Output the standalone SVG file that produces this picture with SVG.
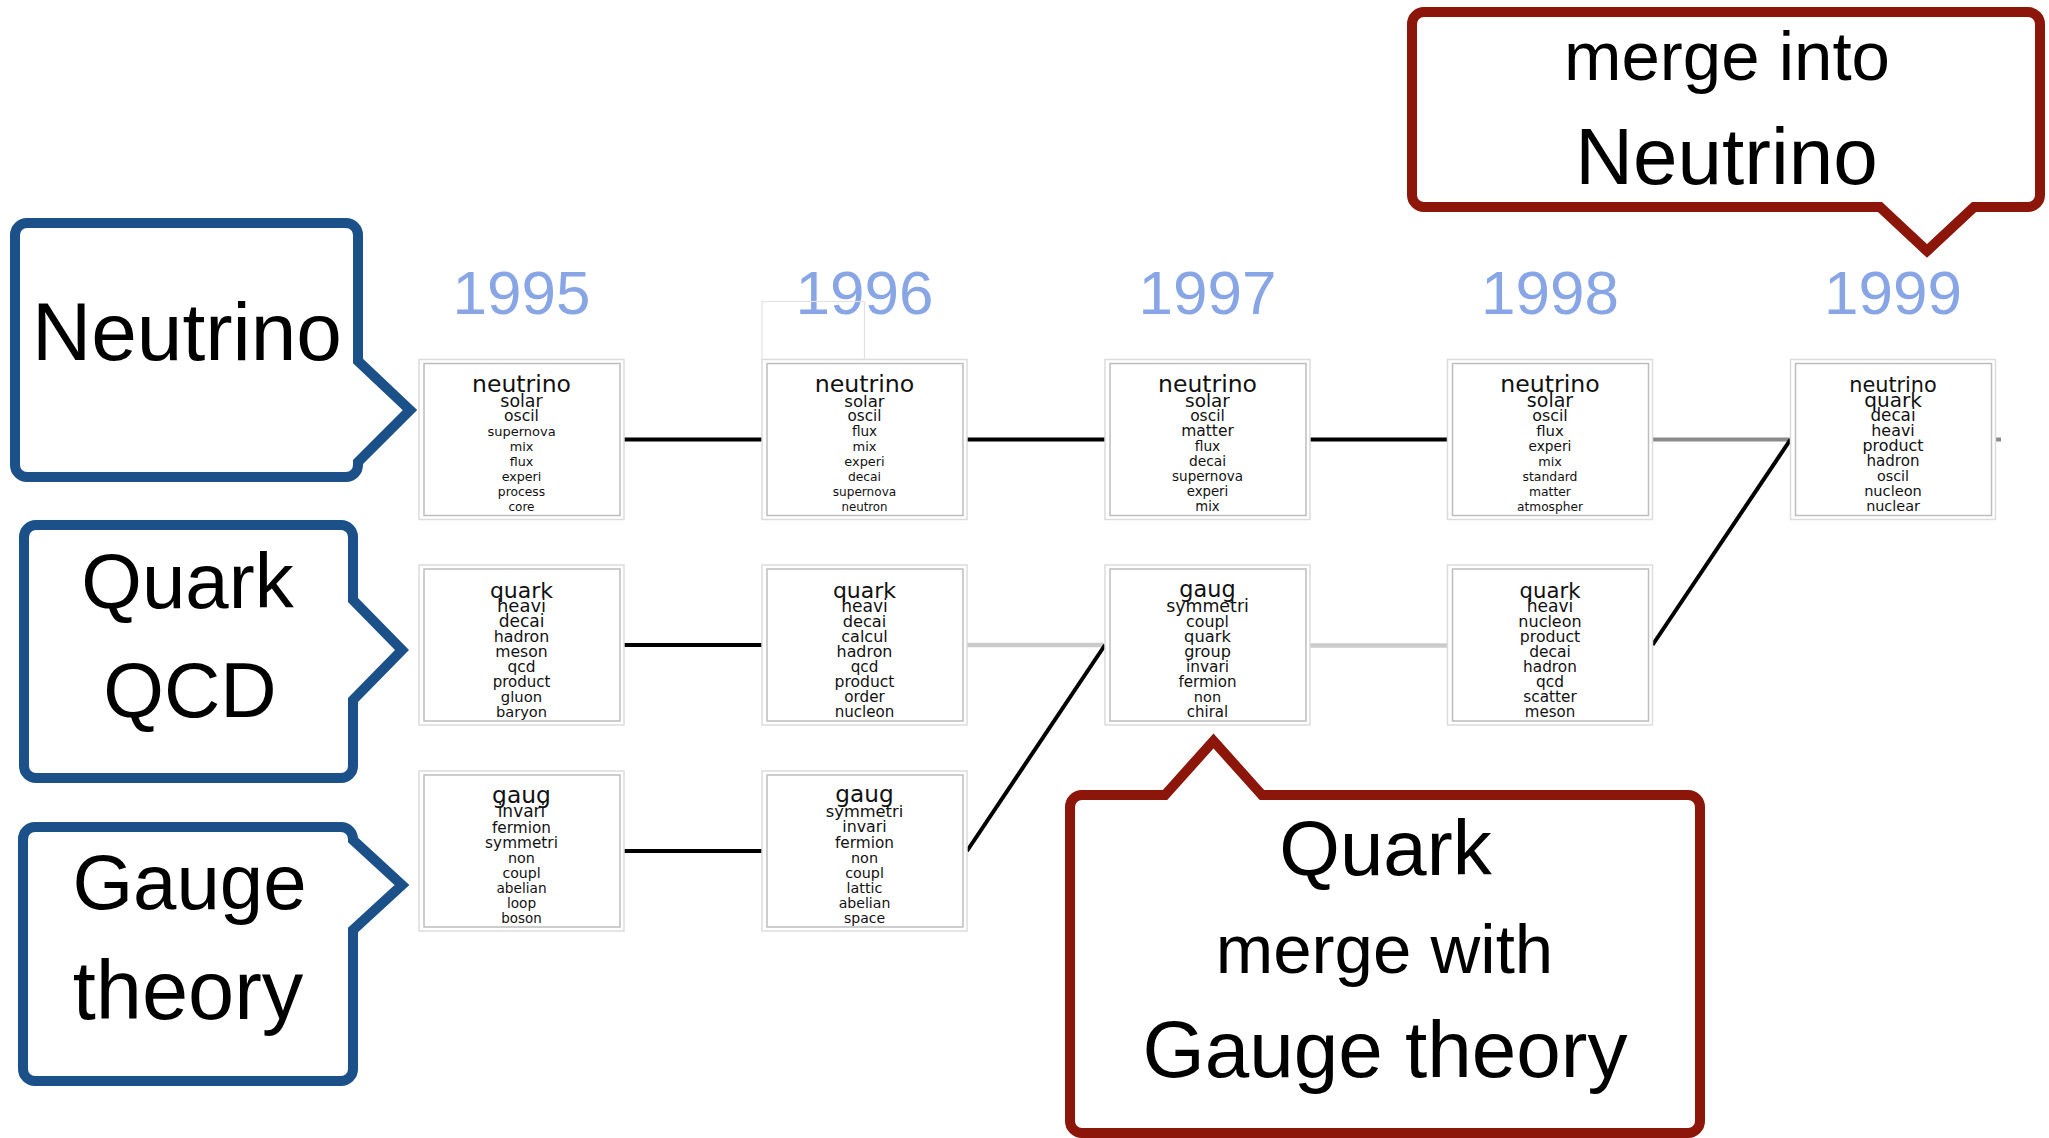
<svg xmlns="http://www.w3.org/2000/svg" width="2049" height="1138" viewBox="0 0 2049 1138">
  <style>
    .bo { fill: #ffffff; stroke: #dcdcdc; stroke-width: 1.5; }
    .bi { fill: #ffffff; stroke: #bdbdbd; stroke-width: 1.5; }
    .w { font-family: "DejaVu Sans", Verdana, sans-serif; text-anchor: middle; fill: #111111; }
    .yr { font-family: "Liberation Sans", Arial, sans-serif; font-size: 62px; fill: #88a6e6; text-anchor: middle; }
    .ct { font-family: "Liberation Sans", Arial, sans-serif; text-anchor: middle; fill: #000000; }
    .cb { fill: #ffffff; stroke: #1b5088; stroke-width: 10; stroke-linejoin: miter; }
    .cr { fill: #ffffff; stroke: #8b1609; stroke-width: 10; stroke-linejoin: miter; }
    .ln { stroke: #000000; stroke-width: 4; fill: none; }
    .lm { stroke: #8a8a8a; stroke-width: 4; fill: none; }
    .lf { stroke: #cbcbcb; stroke-width: 4.5; fill: none; }
    .ghost { fill: none; stroke: #e2e2e2; stroke-width: 1.2; }
  </style>

  <rect width="2049" height="1138" fill="#ffffff"/>

  <!-- year headings -->
  <g id="years">
    <text class="yr" x="521.5" y="314">1995</text>
    <text class="yr" x="864.5" y="314">1996</text>
    <text class="yr" x="1207.5" y="314">1997</text>
    <text class="yr" x="1550" y="314">1998</text>
    <text class="yr" x="1893" y="314">1999</text>
  </g>

  <!-- empty frame above the 1996 neutrino topic -->
  <rect class="ghost" x="762" y="301.5" width="102.5" height="58"/>

  <!-- topic links -->
  <g id="connectors">
    <line class="ln" x1="624" y1="439.5" x2="762" y2="439.5"/>
    <line class="ln" x1="967" y1="439.5" x2="1105" y2="439.5"/>
    <line class="ln" x1="1310" y1="439.5" x2="1447.5" y2="439.5"/>
    <line class="lm" x1="1652.5" y1="439.5" x2="1790.5" y2="439.5"/>
    <line class="lm" x1="1995.5" y1="439.5" x2="2001" y2="439.5"/>

    <line class="ln" x1="624" y1="645" x2="762" y2="645"/>
    <line class="lf" x1="967" y1="645" x2="1105" y2="645"/>
    <line class="lf" x1="1310" y1="645.5" x2="1447.5" y2="645.5"/>
    <line class="ln" x1="1652.5" y1="645" x2="1790.5" y2="439.5"/>

    <line class="ln" x1="624" y1="851" x2="762" y2="851"/>
    <line class="ln" x1="967" y1="851" x2="1105" y2="645"/>
  </g>

  <!-- 1995 -->
  <g id="t1995-neutrino" transform="translate(419,359.5)">
    <rect class="bo" width="205" height="160"/>
    <rect class="bi" x="5" y="4" width="196" height="152"/>
    <text class="w" x="102.5" y="32.5" font-size="23.5">neutrino</text>
    <text class="w" x="102.5" y="47" font-size="17.4">solar</text>
    <text class="w" x="102.5" y="61.7" font-size="15.6">oscil</text>
    <text class="w" x="102.5" y="76.7" font-size="13">supernova</text>
    <text class="w" x="102.5" y="91.7" font-size="12.8">mix</text>
    <text class="w" x="102.5" y="106.7" font-size="12.7">flux</text>
    <text class="w" x="102.5" y="121.7" font-size="12.7">experi</text>
    <text class="w" x="102.5" y="136.7" font-size="12.3">process</text>
    <text class="w" x="102.5" y="151.7" font-size="12">core</text>
  </g>
  <g id="t1995-quark" transform="translate(419,565)">
    <rect class="bo" width="205" height="160"/>
    <rect class="bi" x="5" y="4" width="196" height="152"/>
    <text class="w" x="102.5" y="32.5" font-size="22">quark</text>
    <text class="w" x="102.5" y="47" font-size="18">heavi</text>
    <text class="w" x="102.5" y="61.7" font-size="17">decai</text>
    <text class="w" x="102.5" y="76.7" font-size="15.8">hadron</text>
    <text class="w" x="102.5" y="91.7" font-size="15.6">meson</text>
    <text class="w" x="102.5" y="106.7" font-size="15.4">qcd</text>
    <text class="w" x="102.5" y="121.7" font-size="15">product</text>
    <text class="w" x="102.5" y="136.7" font-size="14.8">gluon</text>
    <text class="w" x="102.5" y="151.7" font-size="14.6">baryon</text>
  </g>
  <g id="t1995-gauge" transform="translate(419,771)">
    <rect class="bo" width="205" height="160"/>
    <rect class="bi" x="5" y="4" width="196" height="152"/>
    <text class="w" x="102.5" y="31.5" font-size="23.4">gaug</text>
    <text class="w" x="102.5" y="46" font-size="17">invari</text>
    <text class="w" x="102.5" y="61.7" font-size="15.3">fermion</text>
    <text class="w" x="102.5" y="76.7" font-size="15.3">symmetri</text>
    <text class="w" x="102.5" y="91.7" font-size="14.3">non</text>
    <text class="w" x="102.5" y="106.7" font-size="14.1">coupl</text>
    <text class="w" x="102.5" y="121.7" font-size="13.7">abelian</text>
    <text class="w" x="102.5" y="136.7" font-size="13.7">loop</text>
    <text class="w" x="102.5" y="151.7" font-size="13.4">boson</text>
  </g>

  <!-- 1996 -->
  <g id="t1996-neutrino" transform="translate(762,359.5)">
    <rect class="bo" width="205" height="160"/>
    <rect class="bi" x="5" y="4" width="196" height="152"/>
    <text class="w" x="102.5" y="32.5" font-size="23.7">neutrino</text>
    <text class="w" x="102.5" y="47" font-size="16.6">solar</text>
    <text class="w" x="102.5" y="61.7" font-size="15.2">oscil</text>
    <text class="w" x="102.5" y="76.7" font-size="13.6">flux</text>
    <text class="w" x="102.5" y="91.7" font-size="13">mix</text>
    <text class="w" x="102.5" y="106.7" font-size="12.9">experi</text>
    <text class="w" x="102.5" y="121.7" font-size="12.3">decai</text>
    <text class="w" x="102.5" y="136.7" font-size="12.1">supernova</text>
    <text class="w" x="102.5" y="151.7" font-size="11.8">neutron</text>
  </g>
  <g id="t1996-quark" transform="translate(762,565)">
    <rect class="bo" width="205" height="160"/>
    <rect class="bi" x="5" y="4" width="196" height="152"/>
    <text class="w" x="102.5" y="32.5" font-size="22">quark</text>
    <text class="w" x="102.5" y="47" font-size="17.1">heavi</text>
    <text class="w" x="102.5" y="61.7" font-size="16.2">decai</text>
    <text class="w" x="102.5" y="76.7" font-size="16">calcul</text>
    <text class="w" x="102.5" y="91.7" font-size="15.9">hadron</text>
    <text class="w" x="102.5" y="106.7" font-size="15.2">qcd</text>
    <text class="w" x="102.5" y="121.7" font-size="15.6">product</text>
    <text class="w" x="102.5" y="136.7" font-size="15.2">order</text>
    <text class="w" x="102.5" y="151.7" font-size="15.1">nucleon</text>
  </g>
  <g id="t1996-gauge" transform="translate(762,771)">
    <rect class="bo" width="205" height="160"/>
    <rect class="bi" x="5" y="4" width="196" height="152"/>
    <text class="w" x="102.5" y="31" font-size="23.2">gaug</text>
    <text class="w" x="102.5" y="45.7" font-size="16.3">symmetri</text>
    <text class="w" x="102.5" y="61.2" font-size="15.8">invari</text>
    <text class="w" x="102.5" y="76.5" font-size="15.3">fermion</text>
    <text class="w" x="102.5" y="91.7" font-size="14.4">non</text>
    <text class="w" x="102.5" y="106.7" font-size="14.3">coupl</text>
    <text class="w" x="102.5" y="121.7" font-size="14.3">lattic</text>
    <text class="w" x="102.5" y="136.7" font-size="14.1">abelian</text>
    <text class="w" x="102.5" y="151.7" font-size="14">space</text>
  </g>

  <!-- 1997 -->
  <g id="t1997-neutrino" transform="translate(1105,359.5)">
    <rect class="bo" width="205" height="160"/>
    <rect class="bi" x="5" y="4" width="196" height="152"/>
    <text class="w" x="102.5" y="32.5" font-size="23.5">neutrino</text>
    <text class="w" x="102.5" y="47" font-size="18.4">solar</text>
    <text class="w" x="102.5" y="61.7" font-size="15.5">oscil</text>
    <text class="w" x="102.5" y="76.7" font-size="15.5">matter</text>
    <text class="w" x="102.5" y="91.7" font-size="13.8">flux</text>
    <text class="w" x="102.5" y="106.7" font-size="13.8">decai</text>
    <text class="w" x="102.5" y="121.7" font-size="13.5">supernova</text>
    <text class="w" x="102.5" y="136.7" font-size="13.3">experi</text>
    <text class="w" x="102.5" y="151.7" font-size="13.2">mix</text>
  </g>
  <g id="t1997-gauge-quark" transform="translate(1105,565)">
    <rect class="bo" width="205" height="160"/>
    <rect class="bi" x="5" y="4" width="196" height="152"/>
    <text class="w" x="102.5" y="32" font-size="22.4">gaug</text>
    <text class="w" x="102.5" y="46.5" font-size="17.4">symmetri</text>
    <text class="w" x="102.5" y="61.7" font-size="15.8">coupl</text>
    <text class="w" x="102.5" y="76.7" font-size="16.3">quark</text>
    <text class="w" x="102.5" y="91.7" font-size="16.1">group</text>
    <text class="w" x="102.5" y="106.7" font-size="15.4">invari</text>
    <text class="w" x="102.5" y="121.7" font-size="15.1">fermion</text>
    <text class="w" x="102.5" y="136.7" font-size="14.5">non</text>
    <text class="w" x="102.5" y="151.7" font-size="15">chiral</text>
  </g>

  <!-- 1998 -->
  <g id="t1998-neutrino" transform="translate(1447.5,359.5)">
    <rect class="bo" width="205" height="160"/>
    <rect class="bi" x="5" y="4" width="196" height="152"/>
    <text class="w" x="102.5" y="32.5" font-size="23.6">neutrino</text>
    <text class="w" x="102.5" y="47" font-size="19">solar</text>
    <text class="w" x="102.5" y="61.7" font-size="15.9">oscil</text>
    <text class="w" x="102.5" y="76.7" font-size="14.9">flux</text>
    <text class="w" x="102.5" y="91.7" font-size="13.7">experi</text>
    <text class="w" x="102.5" y="106.7" font-size="12.8">mix</text>
    <text class="w" x="102.5" y="121.7" font-size="12.4">standard</text>
    <text class="w" x="102.5" y="136.7" font-size="12.3">matter</text>
    <text class="w" x="102.5" y="151.7" font-size="12.2">atmospher</text>
  </g>
  <g id="t1998-quark" transform="translate(1447.5,565)">
    <rect class="bo" width="205" height="160"/>
    <rect class="bi" x="5" y="4" width="196" height="152"/>
    <text class="w" x="102.5" y="33" font-size="21.2">quark</text>
    <text class="w" x="102.5" y="47" font-size="17.1">heavi</text>
    <text class="w" x="102.5" y="62" font-size="16">nucleon</text>
    <text class="w" x="102.5" y="76.7" font-size="15.7">product</text>
    <text class="w" x="102.5" y="91.7" font-size="15.5">decai</text>
    <text class="w" x="102.5" y="106.7" font-size="15.3">hadron</text>
    <text class="w" x="102.5" y="121.7" font-size="15.4">qcd</text>
    <text class="w" x="102.5" y="136.7" font-size="15.3">scatter</text>
    <text class="w" x="102.5" y="151.7" font-size="15">meson</text>
  </g>

  <!-- 1999 -->
  <g id="t1999-neutrino-quark" transform="translate(1790.5,359.5)">
    <rect class="bo" width="205" height="160"/>
    <rect class="bi" x="5" y="4" width="196" height="152"/>
    <text class="w" x="102.5" y="32.5" font-size="20.8">neutrino</text>
    <text class="w" x="102.5" y="47" font-size="20.1">quark</text>
    <text class="w" x="102.5" y="61.5" font-size="16.8">decai</text>
    <text class="w" x="102.5" y="76.5" font-size="15.9">heavi</text>
    <text class="w" x="102.5" y="91" font-size="15.9">product</text>
    <text class="w" x="102.5" y="106.7" font-size="15.1">hadron</text>
    <text class="w" x="102.5" y="121.7" font-size="14.3">oscil</text>
    <text class="w" x="102.5" y="136.7" font-size="14.6">nucleon</text>
    <text class="w" x="102.5" y="151.7" font-size="14.4">nuclear</text>
  </g>

  <!-- topic callouts, left side -->
  <g id="callout-neutrino">
    <path class="cb" d="M27,223 H346 A12,12 0 0 1 358,235 V361 L410,410 L358,462 V465 A12,12 0 0 1 346,477 H27 A12,12 0 0 1 15,465 V235 A12,12 0 0 1 27,223 Z"/>
    <text class="ct" x="187" y="360" font-size="82">Neutrino</text>
  </g>
  <g id="callout-quark">
    <path class="cb" d="M36,525 H341 A12,12 0 0 1 353,537 V600 L402,650 L353,700 V766 A12,12 0 0 1 341,778 H36 A12,12 0 0 1 24,766 V537 A12,12 0 0 1 36,525 Z"/>
    <text class="ct" x="187.5" y="607.5" font-size="78">Quark</text>
    <text class="ct" x="190" y="716.5" font-size="78">QCD</text>
  </g>
  <g id="callout-gauge">
    <path class="cb" d="M35,827 H341 A12,12 0 0 1 353,839 V840 L402,885 L353,930 V1069 A12,12 0 0 1 341,1081 H35 A12,12 0 0 1 23,1069 V839 A12,12 0 0 1 35,827 Z"/>
    <text class="ct" x="189.5" y="908.5" font-size="78">Gauge</text>
    <text class="ct" x="188" y="1018.5" font-size="83">theory</text>
  </g>

  <!-- merge callouts -->
  <g id="callout-merge-into">
    <path class="cr" d="M1424,12 H2028 A12,12 0 0 1 2040,24 V195 A12,12 0 0 1 2028,207 H1974 L1927,251 L1880,207 H1424 A12,12 0 0 1 1412,195 V24 A12,12 0 0 1 1424,12 Z"/>
    <text class="ct" x="1727" y="80" font-size="69">merge into</text>
    <text class="ct" x="1726.5" y="184" font-size="80">Neutrino</text>
  </g>
  <g id="callout-merge-with">
    <path class="cr" d="M1082,795 H1165 L1213.5,741 L1262,795 H1688 A12,12 0 0 1 1700,807 V1121 A12,12 0 0 1 1688,1133 H1082 A12,12 0 0 1 1070,1121 V807 A12,12 0 0 1 1082,795 Z"/>
    <text class="ct" x="1385.5" y="874.5" font-size="78">Quark</text>
    <text class="ct" x="1384.5" y="973" font-size="69">merge with</text>
    <text class="ct" x="1385" y="1076.5" font-size="80">Gauge theory</text>
  </g>
</svg>
